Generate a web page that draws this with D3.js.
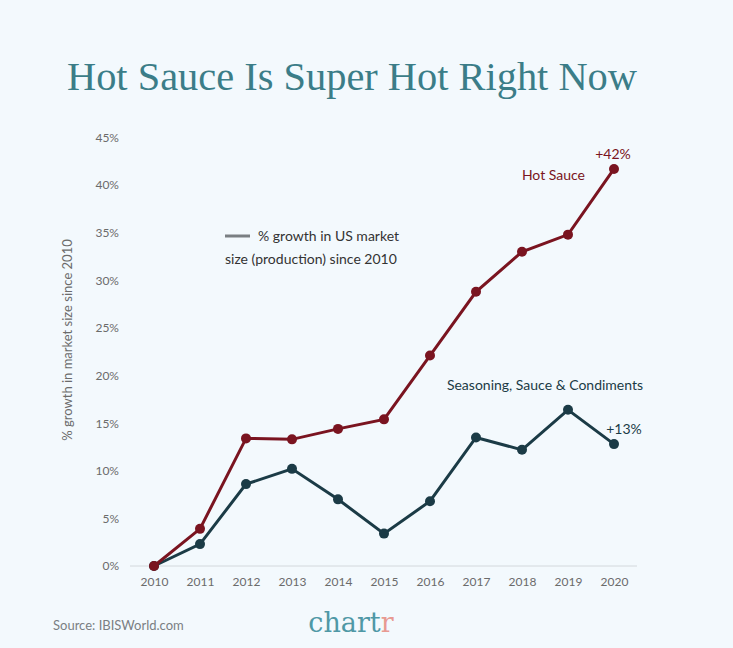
<!DOCTYPE html>
<html><head><meta charset="utf-8">
<script src="https://cdn.jsdelivr.net/npm/d3@7"></script>
<style>
html,body{margin:0;padding:0;background:#f3f9fd;}
svg{display:block;}
</style></head>
<body>
<script>
const years = [2010,2011,2012,2013,2014,2015,2016,2017,2018,2019,2020];
const hotSauce = [0,3.9,13.4,13.3,14.4,15.4,22.1,28.8,33.0,34.8,41.7];
const seasoning = [0,2.3,8.6,10.2,7.0,3.4,6.8,13.5,12.2,16.4,12.8];
const yTicks = [0,5,10,15,20,25,30,35,40,45];

const W=733,H=648;
const svg=d3.select("body").append("svg").attr("width",W).attr("height",H);
svg.append("rect").attr("width",W).attr("height",H).attr("fill","#f3f9fd");

const x=d3.scaleLinear().domain([2010,2020]).range([154,614]);
const y=d3.scaleLinear().domain([0,45]).range([566,137.5]);
const sans="Lato, 'Open Sans', sans-serif";

// title
svg.append("text").attr("x",352).attr("y",90).attr("text-anchor","middle")
 .attr("font-family","'Liberation Serif', serif").attr("font-size",40)
 .attr("fill","#3b7d88").attr("textLength",570).attr("lengthAdjust","spacingAndGlyphs")
 .text("Hot Sauce Is Super Hot Right Now");

// baseline
svg.append("line").attr("x1",130).attr("x2",637).attr("y1",y(0)).attr("y2",y(0))
 .attr("stroke","#d3d8dc").attr("stroke-width",1);

// y axis
const yAxis=d3.axisLeft(y).tickValues(yTicks).tickFormat(d=>d+"%").tickSize(0).tickPadding(0);
const ga=svg.append("g").attr("transform","translate(119,0)").call(yAxis);
ga.select(".domain").remove();
ga.selectAll("text").attr("font-family",sans).attr("font-size",12).attr("fill","#6b6b6b");

// x axis
const xAxis=d3.axisBottom(x).tickValues(years).tickFormat(d3.format("d")).tickSize(0).tickPadding(0);
const gx=svg.append("g").attr("transform","translate(0,577)").call(xAxis);
gx.select(".domain").remove();
gx.selectAll("text").attr("font-family",sans).attr("font-size",12).attr("fill","#6b6b6b");

// y label
svg.append("text").attr("transform","translate(72,340) rotate(-90)").attr("text-anchor","middle")
 .attr("font-family",sans).attr("font-size",13).attr("fill","#6b6b6b")
 .text("% growth in market size since 2010");

const line=d3.line().x((d,i)=>x(years[i])).y(d=>y(d));
function series(vals,col){
  svg.append("path").datum(vals).attr("d",line).attr("fill","none").attr("stroke",col).attr("stroke-width",3);
  svg.selectAll(null).data(vals).enter().append("circle")
   .attr("cx",(d,i)=>x(years[i])).attr("cy",d=>y(d)).attr("r",5).attr("fill",col);
}
series(seasoning,"#1b3b46");
series(hotSauce,"#7a1420");

// legend
svg.append("line").attr("x1",225).attr("x2",250).attr("y1",236).attr("y2",236).attr("stroke","#7a7f83").attr("stroke-width",3);
svg.append("text").attr("x",258).attr("y",241).attr("font-family",sans).attr("font-size",14).attr("fill","#333").text("% growth in US market");
svg.append("text").attr("x",225).attr("y",264).attr("font-family",sans).attr("font-size",14).attr("fill","#333").text("size (production) since 2010");

// annotations
svg.append("text").attr("x",613).attr("y",159).attr("text-anchor","middle").attr("font-family",sans).attr("font-size",14).attr("fill","#7a1420").text("+42%");
svg.append("text").attr("x",585).attr("y",180).attr("text-anchor","end").attr("font-family",sans).attr("font-size",14).attr("fill","#7a1420").text("Hot Sauce");
svg.append("text").attr("x",545).attr("y",390).attr("text-anchor","middle").attr("font-family",sans).attr("font-size",14).attr("fill","#1b3b46").text("Seasoning, Sauce & Condiments");
svg.append("text").attr("x",624).attr("y",434).attr("text-anchor","middle").attr("font-family",sans).attr("font-size",14).attr("fill","#1b3b46").text("+13%");

// footer
svg.append("text").attr("x",53).attr("y",630).attr("font-family",sans).attr("font-size",13).attr("fill","#7a7f83").text("Source: IBISWorld.com");
const logo=svg.append("text").attr("x",351).attr("y",632).attr("text-anchor","middle")
 .attr("font-family","'DejaVu Serif', serif").attr("font-size",27).attr("fill","#4f98a6");
logo.append("tspan").text("chart");
logo.append("tspan").attr("fill","#e89a92").text("r");
</script>
</body></html>
